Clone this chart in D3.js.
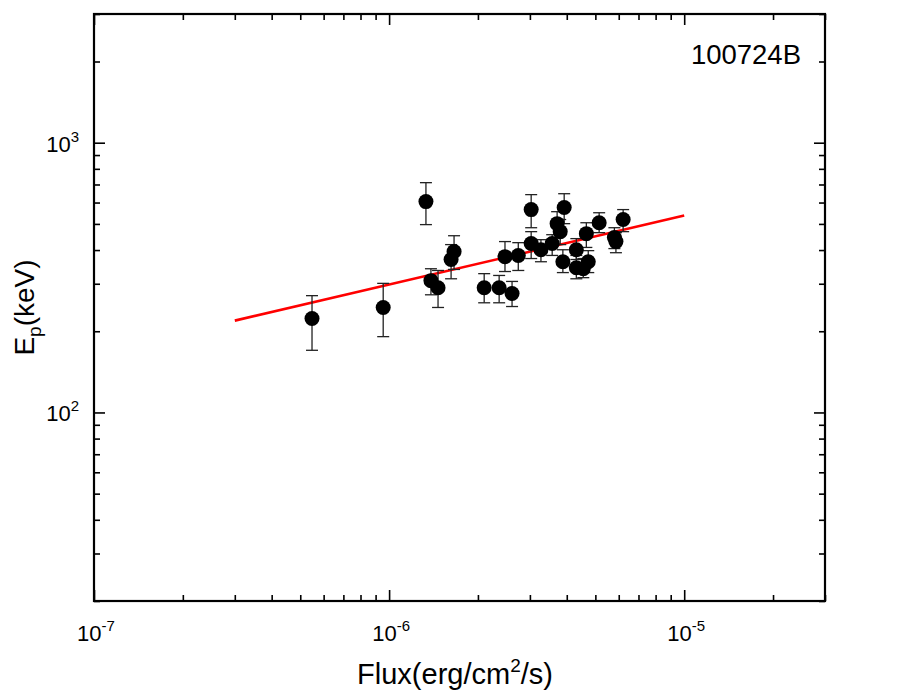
<!DOCTYPE html>
<html><head><meta charset="utf-8">
<script src="https://cdn.jsdelivr.net/npm/d3@7"></script>
<style>body{margin:0;background:#fff}svg{display:block}text{font-family:"Liberation Sans",Arial,sans-serif;fill:#000}</style>
</head><body><svg id="c" width="917" height="695"></svg>
<script>
// Data
const flux   = [5.48e-7,9.55e-7,1.333e-6,1.386e-6,1.465e-6,1.622e-6,1.660e-6,2.10e-6,2.36e-6,2.61e-6,2.47e-6,2.74e-6,3.03e-6,3.03e-6,3.27e-6,3.57e-6,3.71e-6,3.80e-6,3.92e-6,3.88e-6,4.31e-6,4.31e-6,4.55e-6,4.73e-6,4.66e-6,5.15e-6,5.80e-6,5.87e-6,6.21e-6];
const ep     = [223,245,605,308,290,369,395,290,290,276,378,382,565,423,401,423,501,468,575,362,401,344,341,362,460,505,445,430,519];
const epLow  = [170,191,497,273,245,313,339,255,255,247,333,336,484,372,362,382,445,419,501,330,369,313,316,330,409,464,405,391,468];
const epHigh = [271,301,711,341,336,419,452,327,322,306,430,426,642,468,437,456,555,519,647,401,441,382,372,398,505,550,484,464,565];
const fitFlux = [3e-7, 1e-5];
const fitEp   = [219, 537];
const xMajor = [1e-7,1e-6,1e-5];
const xMajorExp = ["-7","-6","-5"];
const yMajor = [100,1000];
const yMajorExp = ["2","3"];
const grbName = "100724B";

const svg = d3.select("#c");
const L=94,T=14,R=825,B=601;
const x = d3.scaleLog().domain([1e-7,3e-5]).range([L,R]);
const y = d3.scaleLog().domain([20,3000]).range([B,T]);

function minors(dom){const out=[];const lo=Math.floor(Math.log10(dom[0])),hi=Math.ceil(Math.log10(dom[1]));
 for(let e=lo;e<=hi;e++)for(let m=2;m<=9;m++){const v=m*Math.pow(10,e);if(v>=dom[0]*0.999&&v<=dom[1]*1.001)out.push(v);}return out;}
const xMin=minors(x.domain()), yMin=minors(y.domain());

function ax(gen,vals,size,tr){
 const g=svg.append("g").attr("transform",tr).call(gen.tickValues(vals).tickSize(size).tickFormat(""));
 g.select(".domain").remove();
 g.selectAll(".tick line").attr("stroke","#000").attr("stroke-width",1.6);
}
ax(d3.axisBottom(x),xMajor,-11,`translate(0,${B})`);
ax(d3.axisBottom(x),xMin,-6,`translate(0,${B})`);
ax(d3.axisTop(x),xMajor,-11,`translate(0,${T})`);
ax(d3.axisTop(x),xMin,-6,`translate(0,${T})`);
ax(d3.axisLeft(y),yMajor,-11,`translate(${L},0)`);
ax(d3.axisLeft(y),yMin,-6,`translate(${L},0)`);
ax(d3.axisRight(y),yMajor,-11,`translate(${R},0)`);
ax(d3.axisRight(y),yMin,-6,`translate(${R},0)`);

svg.append("rect").attr("x",L).attr("y",T).attr("width",R-L).attr("height",B-T)
 .attr("fill","none").attr("stroke","#000").attr("stroke-width",2.2);

// x tick labels
xMajor.forEach((v,i)=>{
 const t=svg.append("text").attr("x",x(v)+2).attr("y",641).attr("text-anchor","middle").attr("font-size",22);
 t.append("tspan").text("10");
 t.append("tspan").attr("dy",-10).attr("font-size",15).text(xMajorExp[i]);
});
yMajor.forEach((v,i)=>{
 const t=svg.append("text").attr("x",79).attr("y",y(v)+9).attr("text-anchor","end").attr("font-size",22);
 t.append("tspan").text("10");
 t.append("tspan").attr("dy",-10).attr("font-size",15).text(yMajorExp[i]);
});

// titles
const xt=svg.append("text").attr("x",455).attr("y",684).attr("text-anchor","middle").attr("font-size",29);
xt.append("tspan").text("Flux(erg/cm");
xt.append("tspan").attr("dy",-12).attr("font-size",19).text("2");
xt.append("tspan").attr("dy",12).text("/s)");
const yt=svg.append("text").attr("transform",`translate(34,${(T+B)/2}) rotate(-90)`).attr("text-anchor","middle").attr("font-size",28);
yt.append("tspan").text("E");
yt.append("tspan").attr("dy",7).attr("font-size",19).text("p");
yt.append("tspan").attr("dy",-7).text("(keV)");
svg.append("text").attr("x",801).attr("y",64).attr("text-anchor","end").attr("font-size",27.5).text(grbName);

// fit line
svg.append("path").datum(fitFlux.map((f,i)=>[f,fitEp[i]]))
 .attr("d",d3.line().x(d=>x(d[0])).y(d=>y(d[1])))
 .attr("stroke","#ff0000").attr("stroke-width",2.6).attr("fill","none");

// error bars
const eg=svg.append("g").attr("stroke","#222").attr("stroke-width",1.3);
flux.forEach((f,i)=>{
 const cx=x(f);
 eg.append("line").attr("x1",cx).attr("x2",cx).attr("y1",y(epLow[i])).attr("y2",y(epHigh[i]));
 eg.append("line").attr("x1",cx-6).attr("x2",cx+6).attr("y1",y(epLow[i])).attr("y2",y(epLow[i]));
 eg.append("line").attr("x1",cx-6).attr("x2",cx+6).attr("y1",y(epHigh[i])).attr("y2",y(epHigh[i]));
});
svg.append("g").selectAll("circle").data(flux).join("circle")
 .attr("cx",d=>x(d)).attr("cy",(d,i)=>y(ep[i])).attr("r",7.5).attr("fill","#000");
</script></body></html>
